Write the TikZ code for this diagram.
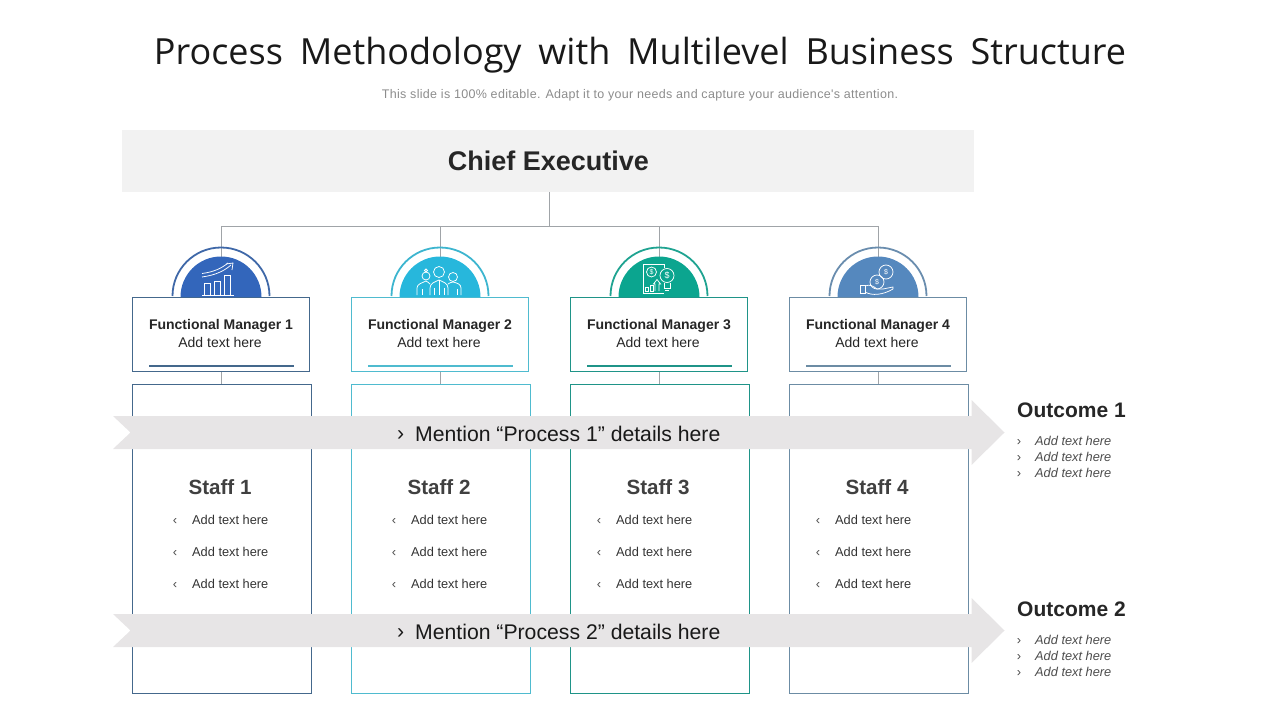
\documentclass[tikz,border=0pt]{standalone}
\usepackage{fontspec}
\setmainfont{Liberation Sans}
\newfontfamily\titlefont[WordSpace=1.8]{Open Sans}
\newfontfamily\subfont[LetterSpace=2.5]{Liberation Sans}

\definecolor{chiefgray}{HTML}{F2F2F2}
\definecolor{bannergray}{HTML}{E7E5E6}
\definecolor{linkgray}{HTML}{A0A4A8}
\definecolor{bordA}{HTML}{44688C}
\definecolor{ringA}{HTML}{3F68A8}
\definecolor{discA}{HTML}{3366BB}
\definecolor{bordB}{HTML}{4FBBCF}
\definecolor{ringB}{HTML}{3DB5CF}
\definecolor{discB}{HTML}{27B7DC}
\definecolor{bordC}{HTML}{1F9488}
\definecolor{ringC}{HTML}{1FA391}
\definecolor{discC}{HTML}{0BA58F}
\definecolor{bordD}{HTML}{6C8CA4}
\definecolor{ringD}{HTML}{6A8DAE}
\definecolor{discD}{HTML}{5588BE}

\tikzset{
  link/.style={draw=linkgray,line width=.9pt},
  fmbox/.style={draw,fill=white,line width=.9pt,minimum width=177.5pt,minimum height=74.5pt,inner sep=0pt},
  staffbox/.style={draw,line width=.9pt,minimum width=179pt,minimum height=308.5pt,inner sep=0pt},
  fmname/.style={align=center,text=black!85,inner sep=0pt,font=\fontsize{14}{16}\selectfont\bfseries},
  fmnote/.style={align=center,text=black!85,inner sep=0pt,font=\fontsize{14}{16}\selectfont},
  stafftitle/.style={font=\fontsize{20.6}{24}\selectfont\bfseries,text=black!75,inner sep=0pt},
  item/.style={anchor=west,font=\fontsize{12.8}{14}\selectfont,text=black!80,inner sep=0pt},
  bulletmark/.style={font=\fontsize{13}{14}\selectfont,text=black!70,inner sep=0pt},
  outtitle/.style={anchor=west,font=\fontsize{21}{24}\selectfont\bfseries,text=black!85,inner sep=0pt},
  outitem/.style={anchor=west,font=\fontsize{12.8}{14}\selectfont\itshape,text=black!70,inner sep=0pt},
  bannertext/.style={anchor=west,font=\fontsize{21.2}{24}\selectfont,text=black!90,inner sep=0pt},
  icon/.style={draw=white,line width=.75pt},
  dollar/.style={font=\fontsize{7}{8}\selectfont,text=white,inner sep=0pt},
}

\begin{document}
\begin{tikzpicture}[x=1pt,y=-1pt]
\useasboundingbox (0,0) rectangle (1280,720);

\node[font=\titlefont\fontsize{36}{42}\selectfont,text=black!90,inner sep=0pt] (title) at (640,55.5) {Process Methodology with Multilevel Business Structure};
\node[font=\subfont\fontsize{12.5}{14}\selectfont,text=black!45,inner sep=0pt] (subtitle) at (640,95) {This slide is 100\% editable. Adapt it to your needs and capture your audience's attention.};

\node[fill=chiefgray,minimum width=852pt,minimum height=62pt,inner sep=0pt] (chief) at (548,161) {};
\node[font=\fontsize{27}{32}\selectfont\bfseries,text=black!85,inner sep=0pt] (chieftext) at (548.5,161) {Chief Executive};
\coordinate (bus) at (549,226);
\draw[link] (bus |- chief.south) -- (bus);

% Manager 1
\begin{scope}
\node[fmbox,draw=bordA] (fm1) at (221,334.5) {};
\draw[link] (fm1.north) |- (bus);
\draw[ringA,line width=1.8pt] (172.5,296) arc [radius=48.5pt, start angle=180, end angle=0];
\fill[discA] (180.5,297) arc [radius=40.5pt, start angle=180, end angle=0] -- cycle;
\draw[icon] (202,295.5) -- (234,295.5);
\draw[icon] (204,295.5) |- (210,283) -- (210,295.5);
\draw[icon] (214.5,295.5) |- (220,281) -- (220,295.5);
\draw[icon] (224.5,295.5) |- (230,275) -- (230,295.5);
\draw[icon] (202,277) .. controls (216,275) and (224,271) .. (231,265);
\draw[icon] (202,273.5) .. controls (214,272) and (222,268) .. (228,263);
\draw[icon] (226,264) -- (233,263) -- (232,270);
\node[fmname] (fmname1) at (221,326) {Functional Manager 1};
\node[fmnote] (fmnote1) at (220,342) {Add text here};
\draw[bordA,line width=1.6pt] (149,365.7) -- (294,365.7);
\node[staffbox,draw=bordA] (staff1) at (222,538.8) {};
\draw[link] (fm1.south) -- (fm1.south |- staff1.north);
\node[stafftitle] (stafftitle1) at (220,487) {Staff 1};
\node[bulletmark] (ma1) at (175,521.5) {‹};
\node[item] (ia1) at (192,519.5) {Add text here};
\node[bulletmark] (mb1) at (175,553.5) {‹};
\node[item] (ib1) at (192,551.5) {Add text here};
\node[bulletmark] (mc1) at (175,585.5) {‹};
\node[item] (ic1) at (192,583.5) {Add text here};
\end{scope}

% Manager 2
\begin{scope}[xshift=219pt]
\node[fmbox,draw=bordB] (fm2) at (221,334.5) {};
\draw[link] (fm2.north) |- (bus);
\draw[ringB,line width=1.8pt] (172.5,296) arc [radius=48.5pt, start angle=180, end angle=0];
\fill[discB] (180.5,297) arc [radius=40.5pt, start angle=180, end angle=0] -- cycle;
\draw[icon] (220,272) circle [radius=5.5pt];
\draw[icon] (207,276) circle [radius=4pt];
\draw[icon] (234,277) circle [radius=4.5pt];
\draw[icon] (207,270.5) circle [radius=1.5pt];
\draw[icon] (211,295) -- (211,288) .. controls (211,283) and (216,282) .. (220,280) .. controls (224,282) and (229,283) .. (229,288) -- (229,295);
\draw[icon] (198,295) -- (198,288) .. controls (198,284) and (203,283) .. (207,281) .. controls (209,282) and (210,283) .. (211,284);
\draw[icon] (229,284) .. controls (231,283) and (232,282) .. (234,282) .. controls (238,283) and (242,284) .. (242,288) -- (242,295);
\draw[icon] (220,280) -- (220,295);
\draw[icon] (203,289) -- (203,295) (238,289) -- (238,295) (215,288) -- (215,295) (225,288) -- (225,295);
\node[fmname] (fmname2) at (221,326) {Functional Manager 2};
\node[fmnote] (fmnote2) at (220,342) {Add text here};
\draw[bordB,line width=1.6pt] (149,365.7) -- (294,365.7);
\node[staffbox,draw=bordB] (staff2) at (222,538.8) {};
\draw[link] (fm2.south) -- (fm2.south |- staff2.north);
\node[stafftitle] (stafftitle2) at (220,487) {Staff 2};
\node[bulletmark] (ma2) at (175,521.5) {‹};
\node[item] (ia2) at (192,519.5) {Add text here};
\node[bulletmark] (mb2) at (175,553.5) {‹};
\node[item] (ib2) at (192,551.5) {Add text here};
\node[bulletmark] (mc2) at (175,585.5) {‹};
\node[item] (ic2) at (192,583.5) {Add text here};
\end{scope}

% Manager 3
\begin{scope}[xshift=438pt]
\node[fmbox,draw=bordC] (fm3) at (221,334.5) {};
\draw[link] (fm3.north) |- (bus);
\draw[ringC,line width=1.8pt] (172.5,296) arc [radius=48.5pt, start angle=180, end angle=0];
\fill[discC] (180.5,297) arc [radius=40.5pt, start angle=180, end angle=0] -- cycle;
\draw[icon] (226,268) -- (226,264) -- (205,264) -- (205,293.5) -- (226,293.5);
\draw[icon] (213.5,272) circle [radius=5pt];
\draw[icon] (229,275.5) circle [radius=7pt];
\draw[icon] (226,283) -- (226,288) -- (232,288) -- (232,283);
\draw[icon] (227,290.5) -- (231,290.5);
\draw[icon] (207,291) rectangle (210,287.5);
\draw[icon] (212,291) rectangle (215,285.5);
\draw[icon] (217,291) -- (217,284) -- (215.5,284) -- (219,279.5) -- (222.5,284) -- (221,284) -- (221,291);
\node[dollar] (cointext3) at (213.5,272) {\$};
\node[dollar,font=\fontsize{9}{10}\selectfont] (bulbtext3) at (229,275.5) {\$};
\node[fmname] (fmname3) at (221,326) {Functional Manager 3};
\node[fmnote] (fmnote3) at (220,342) {Add text here};
\draw[bordC,line width=1.6pt] (149,365.7) -- (294,365.7);
\node[staffbox,draw=bordC] (staff3) at (222,538.8) {};
\draw[link] (fm3.south) -- (fm3.south |- staff3.north);
\node[stafftitle] (stafftitle3) at (220,487) {Staff 3};
\node[bulletmark] (ma3) at (161,521.5) {‹};
\node[item] (ia3) at (178,519.5) {Add text here};
\node[bulletmark] (mb3) at (161,553.5) {‹};
\node[item] (ib3) at (178,551.5) {Add text here};
\node[bulletmark] (mc3) at (161,585.5) {‹};
\node[item] (ic3) at (178,583.5) {Add text here};
\end{scope}

% Manager 4
\begin{scope}[xshift=657pt]
\node[fmbox,draw=bordD] (fm4) at (221,334.5) {};
\draw[link] (fm4.north) |- (bus);
\draw[ringD,line width=1.8pt] (172.5,296) arc [radius=48.5pt, start angle=180, end angle=0];
\fill[discD] (180.5,297) arc [radius=40.5pt, start angle=180, end angle=0] -- cycle;
\draw[icon] (229,272) circle [radius=7pt];
\draw[icon] (220,282) circle [radius=7pt];
\node[dollar] (cointexta4) at (229,272) {\$};
\node[dollar] (cointextb4) at (220,282) {\$};
\draw[icon] (203,285) rectangle (208,293);
\draw[icon] (208,286) .. controls (213,284) and (216,286) .. (220,289) -- (226,289);
\draw[icon] (208,292) .. controls (215,296) and (226,295) .. (236,289);
\draw[icon] (226,289) -- (236,287) -- (236,289);
\node[fmname] (fmname4) at (221,326) {Functional Manager 4};
\node[fmnote] (fmnote4) at (220,342) {Add text here};
\draw[bordD,line width=1.6pt] (149,365.7) -- (294,365.7);
\node[staffbox,draw=bordD] (staff4) at (222,538.8) {};
\draw[link] (fm4.south) -- (fm4.south |- staff4.north);
\node[stafftitle] (stafftitle4) at (220,487) {Staff 4};
\node[bulletmark] (ma4) at (161,521.5) {‹};
\node[item] (ia4) at (178,519.5) {Add text here};
\node[bulletmark] (mb4) at (161,553.5) {‹};
\node[item] (ib4) at (178,551.5) {Add text here};
\node[bulletmark] (mc4) at (161,585.5) {‹};
\node[item] (ic4) at (178,583.5) {Add text here};
\end{scope}

% Process 1
\begin{scope}
\fill[bannergray] (113,416) -- (971.5,416) -- (971.5,400) -- (1004.5,432.5) -- (971.5,465) -- (971.5,449) -- (113,449) -- (130.5,432.5) -- cycle;
\node[bannertext] (procmark1) at (397,435.5) {›};
\node[bannertext] (proctext1) at (415,433.5) {Mention “Process 1” details here};
\node[outtitle] (outcome1) at (1017,410) {Outcome 1};
\node[bulletmark] (oma1) at (1019,442.5) {›};
\node[outitem] (oia1) at (1035,440.5) {Add text here};
\node[bulletmark] (omb1) at (1019,458.5) {›};
\node[outitem] (oib1) at (1035,456.5) {Add text here};
\node[bulletmark] (omc1) at (1019,474.5) {›};
\node[outitem] (oic1) at (1035,472.5) {Add text here};
\end{scope}

% Process 2
\begin{scope}[yshift=-199pt]
\fill[bannergray,yshift=1pt] (113,416) -- (971.5,416) -- (971.5,400) -- (1004.5,432.5) -- (971.5,465) -- (971.5,449) -- (113,449) -- (130.5,432.5) -- cycle;
\node[bannertext] (procmark2) at (397,435) {›};
\node[bannertext] (proctext2) at (415,433) {Mention “Process 2” details here};
\node[outtitle] (outcome2) at (1017,410) {Outcome 2};
\node[bulletmark] (oma2) at (1019,442.5) {›};
\node[outitem] (oia2) at (1035,440.5) {Add text here};
\node[bulletmark] (omb2) at (1019,458.5) {›};
\node[outitem] (oib2) at (1035,456.5) {Add text here};
\node[bulletmark] (omc2) at (1019,474.5) {›};
\node[outitem] (oic2) at (1035,472.5) {Add text here};
\end{scope}

\end{tikzpicture}
\end{document}
